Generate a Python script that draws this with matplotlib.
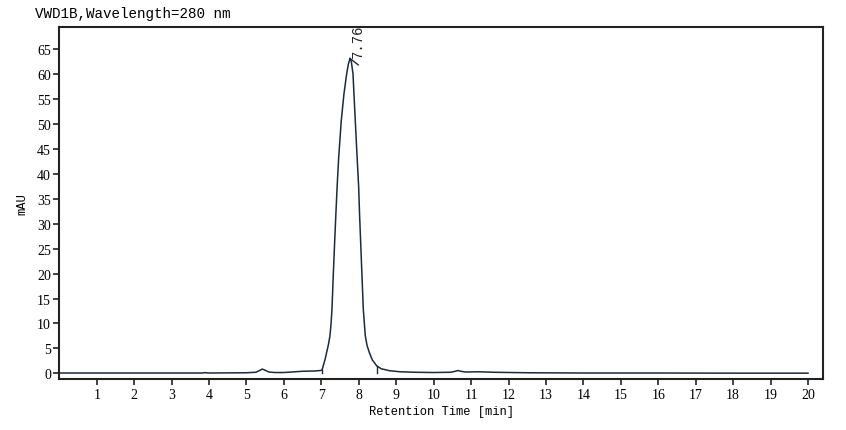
import matplotlib.pyplot as plt

# Chromatogram (retention time in min, signal in mAU)
tempo = [0.0, 2.0, 3.8, 3.9, 4.0, 5.0, 5.25, 5.35, 5.42, 5.5, 5.6, 5.75, 6.0, 6.3, 6.5, 6.8, 6.98,
         7.02, 7.05, 7.10, 7.142, 7.19, 7.23, 7.26, 7.284, 7.318, 7.355, 7.39, 7.425, 7.462, 7.532,
         7.604, 7.676, 7.72, 7.765, 7.80, 7.845, 7.871, 7.906, 7.951, 7.997, 8.02, 8.05,
         8.085, 8.12, 8.173, 8.22, 8.28, 8.36, 8.477, 8.6, 8.83, 9.1, 9.5, 10.0, 10.45, 10.58,
         10.65, 10.72, 10.85, 11.2, 11.6, 12.5, 14.0, 16.0, 18.0, 20.0]
sinal = [0.05, 0.05, 0.05, 0.12, 0.05, 0.1, 0.2, 0.55, 0.85, 0.6, 0.25, 0.15, 0.15, 0.3, 0.4, 0.45, 0.55,
         0.7, 1.5, 2.8, 4.2, 5.8, 7.55, 10.0, 12.9, 19.6, 26.3, 32.3, 38.0, 43.2, 50.7,
         56.1, 60.1, 62.0, 63.2, 62.6, 60.1, 56.1, 50.7, 44.0, 37.3, 32.0, 26.3,
         19.6, 12.9, 7.55, 5.6, 4.2, 2.7, 1.5, 0.9, 0.5, 0.3, 0.2, 0.15, 0.2, 0.4,
         0.55, 0.4, 0.25, 0.3, 0.2, 0.1, 0.05, 0.05, 0.02, 0.02]

# integration limits and peak label
inicio_pico, fim_pico = 7.02, 8.477
sinal_inicio, sinal_fim = 0.7, 1.5
tr_pico, altura_pico = 7.765, 63.2
rotulo_pico = '7.76'

cor = '#1b2b3c'
mono = ['Liberation Mono', 'DejaVu Sans Mono']
serif = ['Liberation Serif', 'DejaVu Serif']

fig = plt.figure(figsize=(8.46, 4.31), dpi=100)
ax = fig.add_axes([0.0701, 0.1172, 0.9027, 0.8178])

ax.plot(tempo, sinal, color=cor, linewidth=1.1)
ax.plot([inicio_pico, inicio_pico], [0, sinal_inicio], color=cor, linewidth=1.0)
ax.plot([fim_pico, fim_pico], [0, sinal_fim], color=cor, linewidth=1.0)

# leader line and retention time label
ax.plot([tr_pico, tr_pico + 0.22], [altura_pico, altura_pico - 1.3], color=cor, linewidth=1.0)
ax.text(tr_pico + 0.22, altura_pico + 0.2, rotulo_pico, rotation=90, ha='center', va='bottom',
        fontsize=10, family=mono, color='#222222')

ax.set_xlim(0, 20.4)
ax.set_ylim(-1.25, 69.5)
ax.set_xticks(range(1, 21))
ax.set_yticks(range(0, 66, 5))
ax.tick_params(direction='out', length=4, width=1.2, color='#222222', labelsize=10, pad=2)
for lab in ax.get_xticklabels() + ax.get_yticklabels():
    lab.set_family(serif)
for s in ax.spines.values():
    s.set_linewidth(1.5)
    s.set_color('#222222')

ax.set_xlabel('Retention Time [min]', fontsize=8.7, family=mono, labelpad=3)
fig.text(0.026, 0.527, 'mAU', rotation=90, ha='center', va='center', fontsize=8.7, family=mono)
fig.text(0.041, 0.968, 'VWD1B,Wavelength=280 nm', ha='left', va='center', fontsize=10.3, family=mono)

fig.savefig('out.png', dpi=100)
